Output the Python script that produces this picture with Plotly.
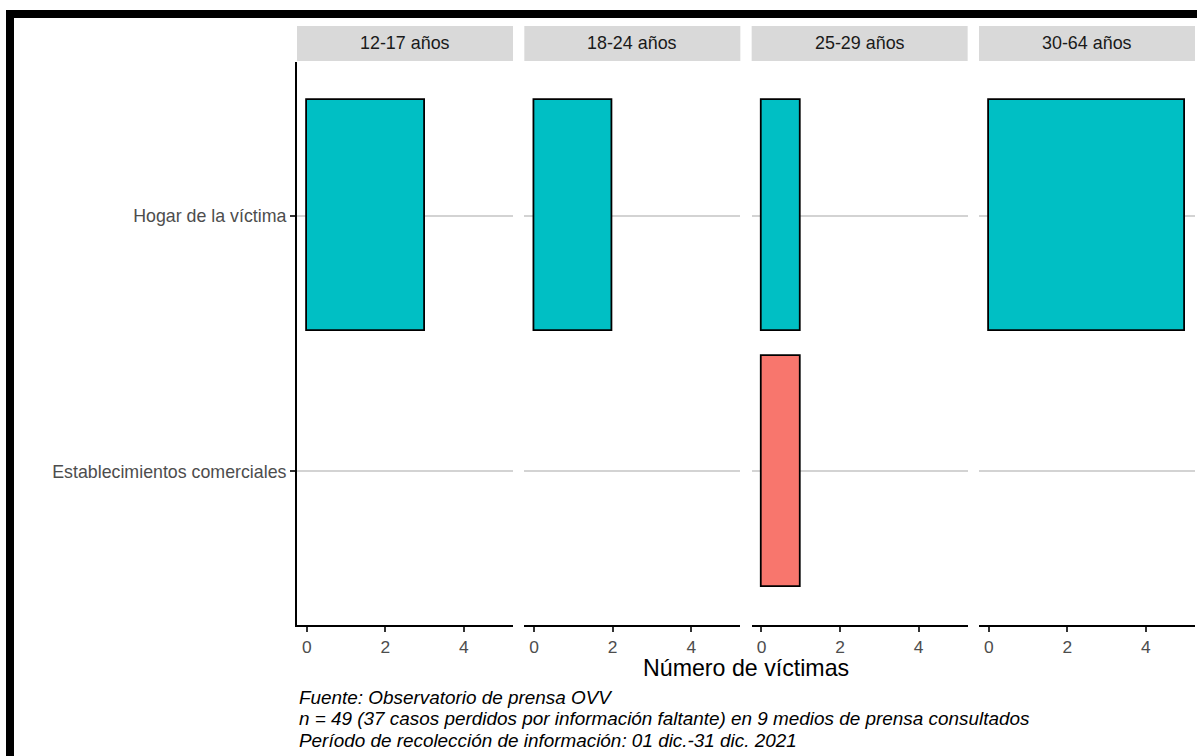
import plotly.graph_objects as go

# ---- data ----
grupos = ["12-17 años", "18-24 años", "25-29 años", "30-64 años"]
lugares = ["Hogar de la víctima", "Establecimientos comerciales"]
hogar = [3, 2, 1, 5]
establecimientos = [0, 0, 1, 0]
x_ticks = [0, 2, 4]
caption_lines = [
    "Fuente: Observatorio de prensa OVV",
    "n = 49 (37 casos perdidos por información faltante) en 9 medios de prensa consultados",
    "Período de recolección de información: 01 dic.-31 dic. 2021",
]
x_title = "Número de víctimas"
colores = {"Hogar de la víctima": "#00BFC4", "Establecimientos comerciales": "#F8766D"}

# ---- geometry (pixels) ----
W, H = 1197, 756
L, R, T, B = 297, 1195, 62, 625
PW, PH = R - L, B - T
panel_w = 216.0
gap = (PW - 4 * panel_w) / 3


def px(xp):
    return (xp - L) / PW


def py(yp):
    return (B - yp) / PH


FONT = "Liberation Sans, Arial, sans-serif"
fig = go.Figure()

series = {"Hogar de la víctima": hogar, "Establecimientos comerciales": establecimientos}
for i, g in enumerate(grupos):
    sfx = "" if i == 0 else str(i + 1)
    for lugar in lugares:
        v = series[lugar][i]
        if v == 0:
            continue
        fig.add_trace(go.Bar(
            x=[v], y=[lugar], orientation="h", width=0.9,
            marker=dict(color=colores[lugar], line=dict(color="black", width=1.8)),
            xaxis="x" + sfx, yaxis="y" + sfx, showlegend=False,
        ))

layout = dict(
    width=W, height=H,
    margin=dict(l=L, r=W - R, t=T, b=H - B),
    paper_bgcolor="white", plot_bgcolor="white",
    bargap=0, showlegend=False,
    font=dict(family=FONT),
)

shapes = []
annotations = []
for i, g in enumerate(grupos):
    sfx = "" if i == 0 else str(i + 1)
    d0 = (i * (panel_w + gap)) / PW
    d1 = (i * (panel_w + gap) + panel_w) / PW
    layout["xaxis" + sfx] = dict(
        domain=[d0, d1], anchor="y" + sfx, range=[-0.25, 5.25],
        tickvals=x_ticks, ticks="outside", ticklen=5, tickwidth=1.5, tickcolor="#333333",
        showline=True, linecolor="black", linewidth=2,
        showgrid=False, zeroline=False,
        tickfont=dict(size=17.4, color="#4D4D4D", family=FONT),
    )
    ycfg = dict(
        anchor="x" + sfx, domain=[0, 1], type="category",
        categoryorder="array", categoryarray=lugares[::-1],
        range=[-0.6, 1.6], showgrid=True, gridcolor="#D3D3D3", gridwidth=1.6,
        zeroline=False,
    )
    if i == 0:
        ycfg.update(showline=True, linecolor="black", linewidth=2,
                    ticks="outside", ticklen=5, tickwidth=1.5, tickcolor="#333333",
                    showticklabels=True,
                    tickfont=dict(size=17.8, color="#4D4D4D", family=FONT))
    else:
        ycfg.update(showline=False, ticks="", showticklabels=False)
    layout["yaxis" + sfx] = ycfg

    # strip
    shapes.append(dict(type="rect", xref="paper", yref="paper",
                       x0=d0, x1=d1, y0=py(61), y1=py(26),
                       fillcolor="#D9D9D9", line=dict(width=0), layer="below"))
    annotations.append(dict(text=g, xref="paper", yref="paper",
                            x=(d0 + d1) / 2, y=py(43.5), showarrow=False,
                            xanchor="center", yanchor="middle",
                            font=dict(size=17.9, color="#1A1A1A", family=FONT)))

# axis title
annotations.append(dict(text=x_title, xref="paper", yref="paper",
                        x=0.5, y=py(668), showarrow=False,
                        xanchor="center", yanchor="middle",
                        font=dict(size=23.2, color="black", family=FONT)))
# caption
for k, line in enumerate(caption_lines):
    annotations.append(dict(text="<i>" + line + "</i>", xref="paper", yref="paper",
                            x=0, y=py(697 + 21.5 * k), showarrow=False,
                            xanchor="left", yanchor="middle",
                            font=dict(size=18.9, color="black", family=FONT)))

# outer black frame (partially cropped)
shapes.append(dict(type="rect", xref="paper", yref="paper",
                   x0=px(6), x1=px(14), y0=py(H + 20), y1=py(10),
                   fillcolor="black", line=dict(width=0), layer="above"))
shapes.append(dict(type="rect", xref="paper", yref="paper",
                   x0=px(6), x1=px(W + 20), y0=py(18), y1=py(10),
                   fillcolor="black", line=dict(width=0), layer="above"))

layout["shapes"] = shapes
layout["annotations"] = annotations
fig.update_layout(**layout)

fig.write_html("out.html",
               config={"displayModeBar": False},
               post_script="document.body.style.margin='0';document.body.style.overflow='hidden';")
